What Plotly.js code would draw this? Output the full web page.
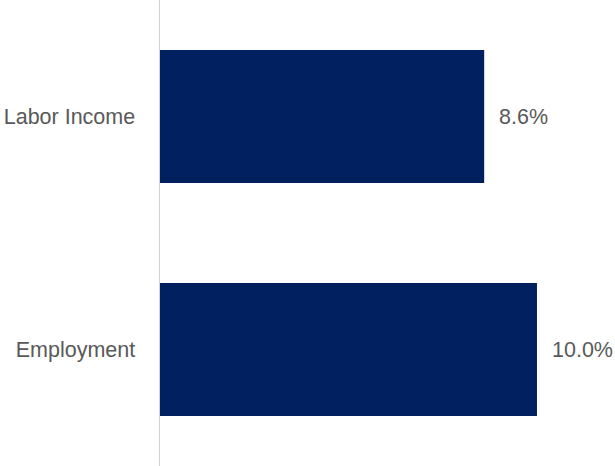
<!DOCTYPE html>
<html>
<head>
<meta charset="utf-8">
<script src="https://cdn.plot.ly/plotly-3.0.1.min.js"></script>
<style>html,body{margin:0;padding:0;background:#fff;}#chart{width:615px;height:466px;}</style>
</head>
<body>
<div id="chart"></div>
<script>
var categories = ["Labor Income", "Employment"];
var values = [8.6, 10.0];
var valueLabels = ["8.6%", "10.0%"];

var trace = {
  type: "bar",
  orientation: "h",
  y: categories,
  x: values,
  width: 0.571,
  marker: {color: "#002060"},
  hoverinfo: "none"
};

var annotations = categories.map(function (c, i) {
  return {
    x: values[i], y: c, xref: "x", yref: "y",
    text: valueLabels[i], showarrow: false,
    xanchor: "left", yanchor: "middle", xshift: 13,
    font: {family: "Liberation Sans, Arial, sans-serif", size: 21.5, color: "#595959"}
  };
});

var layout = {
  width: 615, height: 466,
  margin: {l: 160, r: 0, t: 0, b: 0, pad: 0},
  paper_bgcolor: "#ffffff", plot_bgcolor: "#ffffff",
  showlegend: false,
  font: {family: "Liberation Sans, Arial, sans-serif", size: 21.5, color: "#595959"},
  xaxis: {range: [0, 12.07], visible: false, showgrid: false, zeroline: false, fixedrange: true},
  yaxis: {
    type: "category", autorange: false, range: [1.5, -0.5],
    showline: true, linecolor: "#d0d0d0", linewidth: 1.5,
    showgrid: false, zeroline: false, ticks: "", ticklabelstandoff: 19,
    tickfont: {family: "Liberation Sans, Arial, sans-serif", size: 21.5, color: "#595959"}
  },
  annotations: annotations
};

Plotly.newPlot("chart", [trace], layout, {displayModeBar: false, staticPlot: true});
</script>
</body>
</html>
